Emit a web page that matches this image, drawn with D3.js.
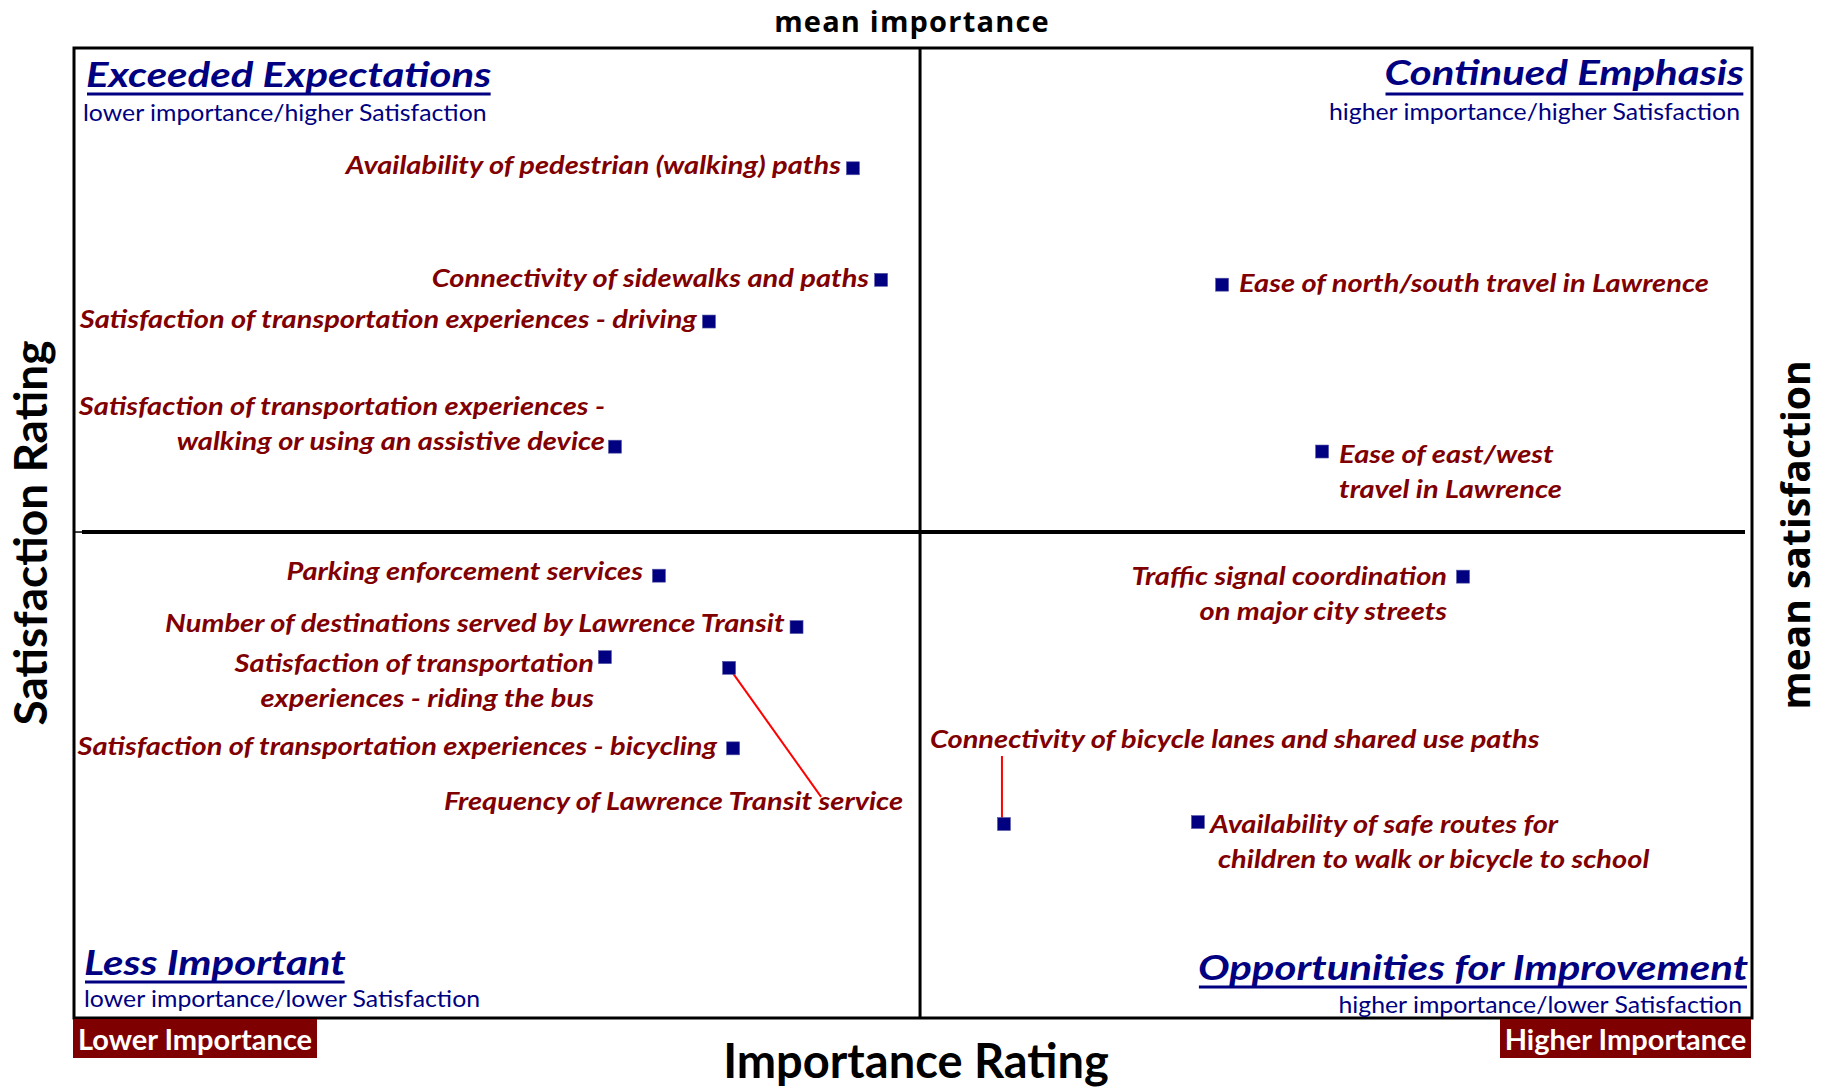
<!DOCTYPE html>
<html>
<head>
<meta charset="utf-8">
<script src="https://cdn.jsdelivr.net/npm/d3@7/dist/d3.min.js"></script>
<style>
  html, body { margin: 0; padding: 0; background: #ffffff; }
  svg { display: block; }
</style>
</head>
<body>
<svg id="chart" width="1830" height="1087"></svg>
<script>
// ---------------- DATA ----------------
const items = [
  "Availability of pedestrian (walking) paths",
  "Connectivity of sidewalks and paths",
  "Satisfaction of transportation experiences - driving",
  "Satisfaction of transportation experiences - walking or using an assistive device",
  "Ease of north/south travel in Lawrence",
  "Ease of east/west travel in Lawrence",
  "Parking enforcement services",
  "Number of destinations served by Lawrence Transit",
  "Satisfaction of transportation experiences - riding the bus",
  "Frequency of Lawrence Transit service",
  "Satisfaction of transportation experiences - bicycling",
  "Traffic signal coordination on major city streets",
  "Connectivity of bicycle lanes and shared use paths",
  "Availability of safe routes for children to walk or bicycle to school"
];
// importance rating (x) and satisfaction rating (y)
const importance   = [23.21, 24.05, 18.92, 16.12, 34.21, 37.19, 17.43, 21.53, 15.82, 19.52, 19.64, 41.39, 27.71, 33.49];
const satisfaction = [3.676, 3.561, 3.518, 3.389, 3.556, 3.384, 3.256, 3.203, 3.172, 3.161, 3.078, 3.255, 3.000, 3.002];
const meanImportance = 25.21;
const meanSatisfaction = 3.301;
const importanceDomain = [0, 50];
const satisfactionDomain = [2.8, 3.8];

const quadrantTitles = ["Exceeded Expectations", "Continued Emphasis", "Less Important", "Opportunities for Improvement"];
const quadrantSubtitles = ["lower importance/higher Satisfaction", "higher importance/higher Satisfaction",
                           "lower importance/lower Satisfaction", "higher importance/lower Satisfaction"];
const endLabels = ["Lower Importance", "Higher Importance"];
const axisTitles = { x: "Importance Rating", y: "Satisfaction Rating", top: "mean importance", right: "mean satisfaction" };

// ---------------- LAYOUT (label placement, not data) ----------------
const placement = [
  { anchor: "end",   dx: -12, dy: 6,   lines: ["Availability of pedestrian (walking) paths"] },
  { anchor: "end",   dx: -12, dy: 7,   lines: ["Connectivity of sidewalks and paths"] },
  { anchor: "end",   dx: -12, dy: 6,   lines: ["Satisfaction of transportation experiences - driving"] },
  { anchor: "end",   dx: -10, dy: -32, lines: ["Satisfaction of transportation experiences -", "walking or using an assistive device"] },
  { anchor: "start", dx: 17,  dy: 7,   lines: ["Ease of north/south travel in Lawrence"] },
  { anchor: "start", dx: 17,  dy: 11,  lines: ["Ease of east/west", "travel in Lawrence"] },
  { anchor: "end",   dx: -16, dy: 4,   lines: ["Parking enforcement services"] },
  { anchor: "end",   dx: -12, dy: 5,   lines: ["Number of destinations served by Lawrence Transit"] },
  { anchor: "end",   dx: -11, dy: 15,  lines: ["Satisfaction of transportation", "experiences - riding the bus"] },
  { anchor: "end",   dx: 174, dy: 142, lines: ["Frequency of Lawrence Transit service"], leader: [0, 0, 92, 129] },
  { anchor: "end",   dx: -16, dy: 7,   lines: ["Satisfaction of transportation experiences - bicycling"] },
  { anchor: "end",   dx: -16, dy: 8,   lines: ["Traffic signal coordination", "on major city streets"] },
  { anchor: "start", dx: -74, dy: -76, lines: ["Connectivity of bicycle lanes and shared use paths"], leader: [-2, -6, -2, -68] },
  { anchor: "start", dx: 12,  dy: 11,  lines: ["Availability of safe routes for", "children to walk or bicycle to school"], indent: [0, 8] }
];
const lineGap = 35;

const NAVY = "#000080", DARKRED = "#800000";
const labelFont = "Lato, 'Open Sans', sans-serif";
const wideFont = "'Open Sans', sans-serif";

// ---------------- DRAW ----------------
const svg = d3.select("#chart");
const x = d3.scaleLinear().domain(importanceDomain).range([74, 1752]);
const y = d3.scaleLinear().domain(satisfactionDomain).range([1018, 48]);

const L = x(importanceDomain[0]), R = x(importanceDomain[1]);
const T = y(satisfactionDomain[1]), B = y(satisfactionDomain[0]);

// helper: text horizontally stretched around its anchor point
function stretchedText(parent, ax, ay, k, anchor) {
  return parent.append("g").attr("transform", `translate(${ax},${ay}) scale(${k},1)`)
    .append("text").attr("x", 0).attr("y", 0).attr("text-anchor", anchor);
}

// quadrant dividers
svg.append("line")
  .attr("x1", L + 8).attr("x2", R - 7)
  .attr("y1", y(meanSatisfaction)).attr("y2", y(meanSatisfaction))
  .attr("stroke", "#000").attr("stroke-width", 4);
svg.append("line")
  .attr("x1", L).attr("x2", L + 8)
  .attr("y1", y(meanSatisfaction)).attr("y2", y(meanSatisfaction))
  .attr("stroke", "#000").attr("stroke-width", 1.5);
svg.append("line")
  .attr("x1", x(meanImportance)).attr("x2", x(meanImportance))
  .attr("y1", T).attr("y2", B)
  .attr("stroke", "#000").attr("stroke-width", 3);

// frame
svg.append("rect")
  .attr("x", L).attr("y", T).attr("width", R - L).attr("height", B - T)
  .attr("fill", "none").attr("stroke", "#000").attr("stroke-width", 3);

// quadrant titles with underline
const TK = 1.2;
function titled(text, px, py, anchor, uy) {
  const t = stretchedText(svg, px, py, TK, anchor)
    .attr("font-family", labelFont).attr("font-weight", 700).attr("font-style", "italic")
    .attr("font-size", 35).attr("fill", NAVY).text(text);
  const bb = t.node().getBBox();
  svg.append("line").attr("x1", px + TK * bb.x + 1).attr("x2", px + TK * (bb.x + bb.width) - 1)
    .attr("y1", uy).attr("y2", uy).attr("stroke", NAVY).attr("stroke-width", 3);
}
function sub(text, px, py, anchor) {
  stretchedText(svg, px, py, 1.035, anchor)
    .attr("font-family", labelFont).attr("font-size", 24).attr("fill", NAVY).text(text);
}
titled(quadrantTitles[0], L + 12, T + 39, "start", T + 46);
sub(quadrantSubtitles[0], L + 9, T + 73, "start");
titled(quadrantTitles[1], R - 8, T + 37, "end", T + 46);
sub(quadrantSubtitles[1], R - 12, T + 72, "end");
titled(quadrantTitles[2], L + 10, B - 43, "start", B - 36);
sub(quadrantSubtitles[2], L + 10, B - 11, "start");
titled(quadrantTitles[3], R - 4, B - 38, "end", B - 31);
sub(quadrantSubtitles[3], R - 10, B - 5, "end");

// end boxes
const boxes = [{ text: endLabels[0], x0: L - 1, x1: 317 }, { text: endLabels[1], x0: 1500, x1: R - 1 }];
boxes.forEach(b => {
  svg.append("rect").attr("x", b.x0).attr("y", B + 1).attr("width", b.x1 - b.x0).attr("height", 39).attr("fill", "#7f0000");
  svg.append("text").attr("x", (b.x0 + b.x1) / 2).attr("y", B + 32).attr("text-anchor", "middle")
    .attr("font-family", labelFont).attr("font-weight", 700).attr("font-size", 29).attr("fill", "#fff").text(b.text);
});

// axis titles
svg.append("text").attr("x", 916).attr("y", 1078).attr("text-anchor", "middle")
  .attr("font-family", labelFont).attr("font-weight", 700).attr("font-size", 47).attr("fill", "#000").text(axisTitles.x);
svg.append("text").attr("transform", "translate(47,533) rotate(-90)").attr("text-anchor", "middle")
  .attr("font-family", labelFont).attr("font-weight", 700).attr("font-size", 46).attr("fill", "#000").text(axisTitles.y);
svg.append("text").attr("x", 912).attr("y", 32).attr("text-anchor", "middle")
  .attr("font-family", wideFont).attr("font-weight", 700).attr("font-size", 29)
  .attr("letter-spacing", 1.2).attr("fill", "#000").text(axisTitles.top);
svg.append("text").attr("transform", "translate(1810,535) rotate(-90)").attr("text-anchor", "middle")
  .attr("font-family", wideFont).attr("font-weight", 700).attr("font-size", 39).attr("fill", "#000").text(axisTitles.right);

// points
const pts = items.map((name, i) => ({ name, imp: importance[i], sat: satisfaction[i], p: placement[i] }));

// leader lines
svg.append("g").selectAll("line").data(pts.filter(d => d.p.leader)).join("line")
  .attr("x1", d => x(d.imp) + d.p.leader[0]).attr("y1", d => y(d.sat) + d.p.leader[1])
  .attr("x2", d => x(d.imp) + d.p.leader[2]).attr("y2", d => y(d.sat) + d.p.leader[3])
  .attr("stroke", "#ff0000").attr("stroke-width", 2);

// markers
const S = 13;
svg.append("g").selectAll("rect").data(pts).join("rect")
  .attr("x", d => x(d.imp) - S / 2).attr("y", d => y(d.sat) - S / 2)
  .attr("width", S).attr("height", S)
  .attr("fill", NAVY).attr("stroke", "#5a5aa8").attr("stroke-width", 0.6);

// labels
const LK = 1.21;
const lg = svg.append("g");
pts.forEach(d => {
  const t = stretchedText(lg, x(d.imp) + d.p.dx, y(d.sat) + d.p.dy, LK, d.p.anchor)
    .attr("font-family", labelFont).attr("font-weight", 700).attr("font-style", "italic")
    .attr("font-size", 24).attr("fill", DARKRED);
  d.p.lines.forEach((ln, k) => {
    t.append("tspan")
      .attr("x", (d.p.indent ? d.p.indent[k] : 0) / LK)
      .attr("y", k * lineGap)
      .text(ln);
  });
});
</script>
</body>
</html>
